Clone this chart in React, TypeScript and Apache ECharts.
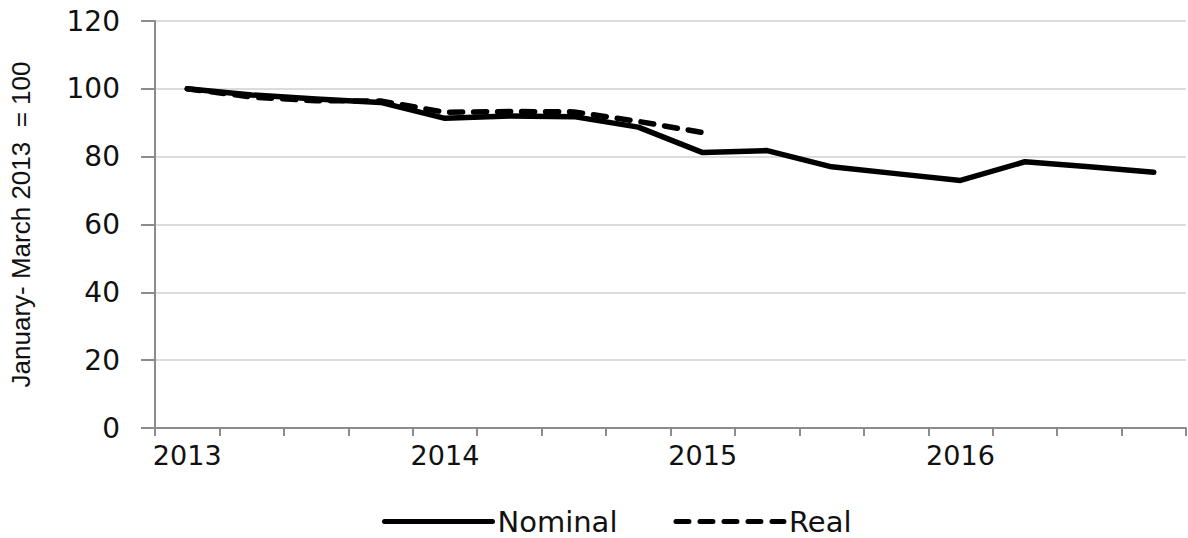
import React, { useEffect, useRef } from "react";
import * as echarts from "echarts";

const categories = [
  "2013 Q1", "2013 Q2", "2013 Q3", "2013 Q4",
  "2014 Q1", "2014 Q2", "2014 Q3", "2014 Q4",
  "2015 Q1", "2015 Q2", "2015 Q3", "2015 Q4",
  "2016 Q1", "2016 Q2", "2016 Q3", "2016 Q4",
];
const nominal = [100, 98.2, 97, 96, 91.3, 92, 91.8, 88.7, 81.2, 81.8, 77, 75, 73, 78.5, 77, 75.4];
const real: (number | null)[] = [100, 97.6, 96.5, 96.4, 93.1, 93.3, 93.2, 90.4, 87.1, null, null, null, null, null, null, null];
const yTicks = { min: 0, max: 120, interval: 20 };
const yName = "January- March 2013  = 100";

export default function App() {
  const ref = useRef<HTMLDivElement>(null);
  useEffect(() => {
    if (!ref.current) return;
    const chart = echarts.init(ref.current, undefined, { renderer: "svg" });
    const font = "DejaVu Sans, Liberation Sans, Arial, sans-serif";
    chart.setOption({
      animation: false,
      backgroundColor: "#ffffff",
      grid: { left: 153, right: 2, top: 21, bottom: 110, containLabel: false },
      legend: {
        left: 377,
        top: 502,
        itemWidth: 108,
        itemHeight: 14,
        itemGap: 56,
        itemStyle: { opacity: 0 },
        lineStyle: { width: 5 },
        textStyle: { fontFamily: font, fontSize: 29, color: "#111", lineHeight: 28 },
        data: ["Nominal", "Real"],
      },
      xAxis: {
        type: "category",
        data: categories,
        boundaryGap: true,
        axisLine: { lineStyle: { color: "#8c8c8c", width: 2 } },
        axisTick: { show: true, interval: 0, length: 8, lineStyle: { color: "#8c8c8c", width: 2 } },
        axisLabel: {
          interval: 3,
          margin: 14,
          fontFamily: font,
          fontSize: 27,
          color: "#111",
          formatter: (v: string) => v.split(" ")[0],
        },
        splitLine: { show: false },
      },
      yAxis: {
        type: "value",
        min: yTicks.min,
        max: yTicks.max,
        interval: yTicks.interval,
        name: yName,
        nameLocation: "middle",
        nameGap: 121,
        nameRotate: 90,
        nameTextStyle: { fontFamily: "Liberation Sans, Arial, sans-serif", fontSize: 26, color: "#111" },
        axisLine: { show: true, lineStyle: { color: "#8c8c8c", width: 2 } },
        axisTick: { show: true, inside: false, length: 14, lineStyle: { color: "#8c8c8c", width: 2 } },
        axisLabel: { margin: 35, fontFamily: font, fontSize: 28, color: "#111" },
        splitLine: { show: true, lineStyle: { color: "#dcdcdc", width: 2 } },
      },
      series: [
        {
          name: "Nominal",
          type: "line",
          data: nominal,
          symbol: "none",
          lineStyle: { color: "#000", width: 5.5, cap: "round", join: "round" },
          itemStyle: { color: "#000" },
        },
        {
          name: "Real",
          type: "line",
          data: real,
          symbol: "none",
          lineStyle: { color: "#000", width: 5.5, type: [13, 11], cap: "round", join: "round" },
          itemStyle: { color: "#000" },
        },
      ],
    });
    return () => chart.dispose();
  }, []);
  return (
    <div
      ref={ref}
      style={{ position: "fixed", left: 0, top: 0, width: 1188, height: 538, background: "#fff" }}
    />
  );
}
